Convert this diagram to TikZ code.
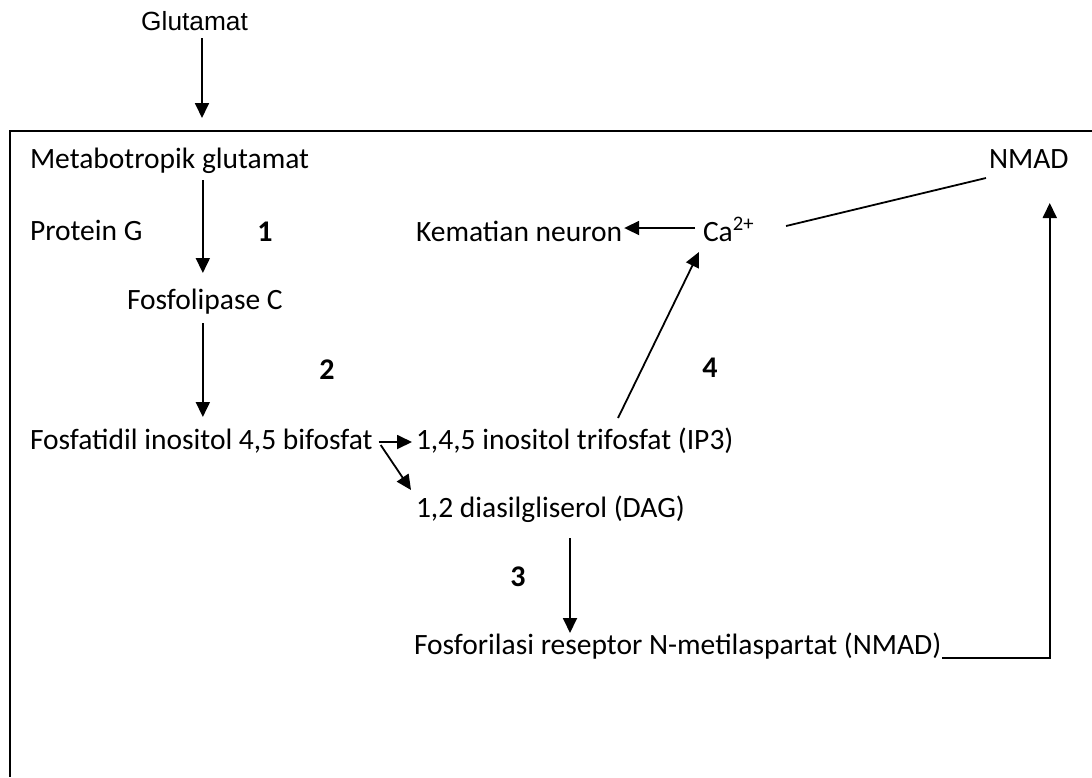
\documentclass[tikz,border=0pt]{standalone}
\usepackage{fontspec}
\setmainfont{Carlito}
\newfontfamily\arialfont{Liberation Sans}
\usetikzlibrary{arrows.meta,calc}
\begin{document}
\begin{tikzpicture}[x=1pt,y=-1pt,
  txt/.style={inner sep=0pt,outer sep=0pt,anchor=base west,font=\fontsize{29.5}{34}\selectfont},
  num/.style={inner sep=0pt,outer sep=0pt,anchor=base,font=\fontsize{30}{34}\selectfont\bfseries},
  arr/.style={line width=1.8pt,-{Triangle[width=14pt,length=15pt]}},
  ln/.style={line width=1.8pt},
  frame/.style={line width=2pt}]
\useasboundingbox (0,0) rectangle (1092,777);
% frame
\draw[frame] (1092,131) -- (10,131) -- (10,777);
% nodes
\node[inner sep=0pt,anchor=base west,font=\arialfont\fontsize{26.3}{30}\selectfont] (glu) at (141,30) {Glutamat};
\coordinate (boxin) at (202,118);
\node[txt] (metab) at (30,168) {Metabotropik glutamat};
\node[txt] (protg) at (30,240) {Protein G};
\node[txt] (fosfo) at (127,309) {Fosfolipase C};
\node[txt] (fosfa) at (30,449) {Fosfatidil inositol 4,5 bifosfat};
\node[txt] (ip3) at (416,449) {1,4,5 inositol trifosfat (IP3)};
\node[txt] (dag) at (416,517) {1,2 diasilgliserol (DAG)};
\node[txt] (fosfor) at (414,654) {Fosforilasi reseptor N-metilaspartat (NMAD)};
\node[txt] (kem) at (416,241) {Kematian neuron};
\node[txt] (ca) at (703,241) {Ca\raisebox{1pt}{\textsuperscript{2+}}};
\node[txt] (nmad) at (989,168) {NMAD};
\node[num] (n1) at (265,241) {1};
\node[num] (n2) at (327,379) {2};
\node[num] (n3) at (518,586) {3};
\node[num] (n4) at (710,377) {4};
% connectors
\draw[arr] ($(glu.base -| boxin)+(0,8)$) -- (boxin);
\draw[arr] ($(metab.base -| fosfo.base)+(-2,12)$) -- ($(fosfo.base)+(-2,-36)$);
\draw[arr] ($(fosfo.base)+(-2,14)$) -- ($(fosfa.base -| fosfo.base)+(-2,-32)$);
\draw[arr] ($(fosfa.base east)+(6,-7)$) -- ($(ip3.base west)+(-4,-7)$);
\draw[arr] ($(fosfa.base east)+(8,-4)$) -- ($(dag.base west)+(-5,-27)$);
\draw[arr] ($(dag.base west)+(154,21)$) -- ($(fosfor.base west)+(156,-21)$);
\draw[arr] ($(fosfor.base east)+(1,4)$) -| ($(nmad.base)+(21,35)$);
\draw[ln] ($(ca.base east)+(32,-15)$) -- ($(nmad.base west)+(-3,10)$);
\draw[arr] ($(ca.base west)+(-8,-13)$) -- ($(kem.base east)+(2,-13)$);
\draw[arr] ($(ip3.base west)+(202,-31)$) -- ($(ca.base west)+(-4,11)$);
\end{tikzpicture}
\end{document}
